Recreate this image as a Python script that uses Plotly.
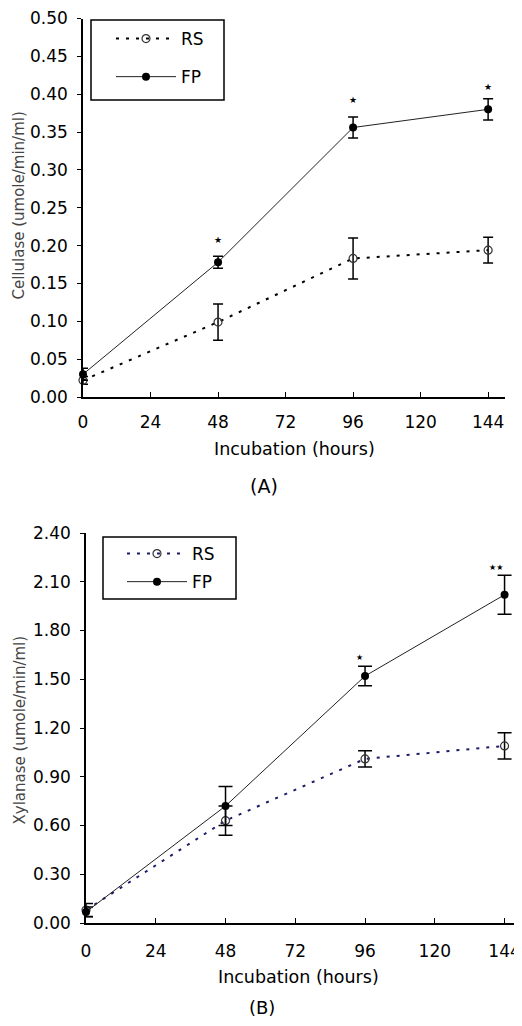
import plotly.graph_objects as go

# page is shown with the browser's default 8px body margin
OFF = 8
W, H = 522 - OFF, 1026 - 2 * OFF

hours = [0, 48, 96, 144]

# Panel A: Cellulase
cel_rs = [0.022, 0.099, 0.183, 0.194]
cel_rs_err = [0.005, 0.024, 0.027, 0.017]
cel_fp = [0.030, 0.178, 0.356, 0.380]
cel_fp_err = [0.008, 0.008, 0.014, 0.014]
cel_star_x = [48, 96, 144]
cel_star_y = [0.208, 0.392, 0.410]
cel_star_txt = ["★", "★", "★"]

# Panel B: Xylanase
xyl_rs = [0.08, 0.63, 1.01, 1.09]
xyl_rs_err = [0.04, 0.09, 0.05, 0.08]
xyl_fp = [0.068, 0.72, 1.52, 2.02]
xyl_fp_err = [0.03, 0.12, 0.06, 0.12]
xyl_star_x = [94, 141]
xyl_star_y = [1.635, 2.185]
xyl_star_txt = ["★", "★★"]

cel_ticks = [0.0, 0.05, 0.10, 0.15, 0.20, 0.25, 0.30, 0.35, 0.40, 0.45, 0.50]
xyl_ticks = [0.0, 0.30, 0.60, 0.90, 1.20, 1.50, 1.80, 2.10, 2.40]
x_ticks = [0, 24, 48, 72, 96, 120, 144]

FONT = "DejaVu Sans, Liberation Sans, Arial, sans-serif"
NAVY = "#1c1c6a"

fig = go.Figure()


def add_panel(xa, ya, rs, rs_err, fp, fp_err, rs_color, legend, cap):
    fig.add_trace(go.Scatter(
        x=hours, y=rs, name="RS", mode="lines+markers", xaxis=xa, yaxis=ya,
        line=dict(color=rs_color, width=2, dash="3px,7px"),
        marker=dict(symbol="circle-open", size=8, color="#333333", line=dict(width=1.2)),
        error_y=dict(type="data", array=rs_err, visible=True, color="black", thickness=1.5, width=cap),
        legend=legend, legendgroup=legend + "rs", cliponaxis=False))
    fig.add_trace(go.Scatter(
        x=hours, y=fp, name="FP", mode="lines+markers", xaxis=xa, yaxis=ya,
        line=dict(color="#222222", width=1),
        marker=dict(symbol="circle", size=8, color="black"),
        error_y=dict(type="data", array=fp_err, visible=True, color="black", thickness=1.5, width=cap),
        legend=legend, legendgroup=legend + "fp", cliponaxis=False))


add_panel("x", "y", cel_rs, cel_rs_err, cel_fp, cel_fp_err, "black", "legend", 5)
add_panel("x2", "y2", xyl_rs, xyl_rs_err, xyl_fp, xyl_fp_err, NAVY, "legend2", 7)

for xs, ys, ts, xr, yr, sz in [(cel_star_x, cel_star_y, cel_star_txt, "x", "y", 9),
                               (xyl_star_x, xyl_star_y, xyl_star_txt, "x2", "y2", 8)]:
    for xv, yv, t in zip(xs, ys, ts):
        fig.add_annotation(x=xv, y=yv, xref=xr, yref=yr, text=t, showarrow=False,
                           font=dict(size=sz, color="black", family="DejaVu Sans"))


def px_x(p):
    return (p - OFF) / W


def px_y(p):
    return 1 - (p - OFF) / H


tickfont = dict(size=17, family=FONT, color="black")
base = dict(showline=True, linecolor="black", linewidth=1.5, showgrid=False,
            zeroline=False, tickfont=tickfont, tickcolor="black", automargin=False,
            ticklabeloverflow="allow")

fig.update_layout(
    width=W, height=H, margin=dict(l=0, r=0, t=0, b=0, autoexpand=False),
    paper_bgcolor="white", plot_bgcolor="white",
    font=dict(family=FONT, color="black"),
    xaxis=dict(domain=[px_x(83), px_x(505)], range=[0, 150], anchor="y",
               tickvals=x_ticks, ticks="inside", ticklen=5, ticklabelstandoff=9, **base),
    yaxis=dict(domain=[px_y(397), px_y(18.5)], range=[0, 0.5], anchor="x",
               tickvals=cel_ticks, tickformat=".2f", ticks="outside", ticklen=4,
               ticklabelstandoff=6, **base),
    xaxis2=dict(domain=[px_x(86), px_x(522)], range=[0, 150], anchor="y2",
                tickvals=x_ticks, ticks="inside", ticklen=5, ticklabelstandoff=12, **base),
    yaxis2=dict(domain=[px_y(923), px_y(533)], range=[0, 2.4], anchor="x2",
                tickvals=xyl_ticks, tickformat=".2f", ticks="outside", ticklen=4,
                ticklabelstandoff=6, **base),
    legend=dict(x=px_x(111), y=px_y(21), xanchor="left", yanchor="top",
                borderwidth=0, bgcolor="rgba(0,0,0,0)",
                font=dict(size=17, family=FONT), tracegroupgap=13, itemwidth=60),
    legend2=dict(x=px_x(122), y=px_y(536), xanchor="left", yanchor="top",
                 borderwidth=0, bgcolor="rgba(0,0,0,0)",
                 font=dict(size=17, family=FONT), tracegroupgap=3, itemwidth=60),
    showlegend=True,
)

# legend frames
for x0, y0, x1, y1 in [(91, 20, 224, 100), (103, 537, 236, 599)]:
    fig.add_shape(type="rect", xref="paper", yref="paper",
                  x0=px_x(x0), x1=px_x(x1), y0=px_y(y1), y1=px_y(y0),
                  line=dict(color="black", width=1.5), fillcolor="rgba(0,0,0,0)")

# axis titles and panel labels
texts = [
    (294, 449, "Incubation (hours)", 17.5, 0, "black"),
    (264, 486, "(A)", 19, 0, "black"),
    (18.5, 206, "Cellulase (umole/min/ml)", 15, -90, "#444444"),
    (298, 977, "Incubation (hours)", 17.5, 0, "black"),
    (262, 1007, "(B)", 18, 0, "black"),
    (19.5, 730, "Xylanase (umole/min/ml)", 15, -90, "#444444"),
]
for x, y, t, s, ang, c in texts:
    fig.add_annotation(x=px_x(x), y=px_y(y), xref="paper", yref="paper", text=t,
                       showarrow=False, textangle=ang, xanchor="center", yanchor="middle",
                       font=dict(size=s, family=FONT, color=c))

fig.write_html("out.html")
